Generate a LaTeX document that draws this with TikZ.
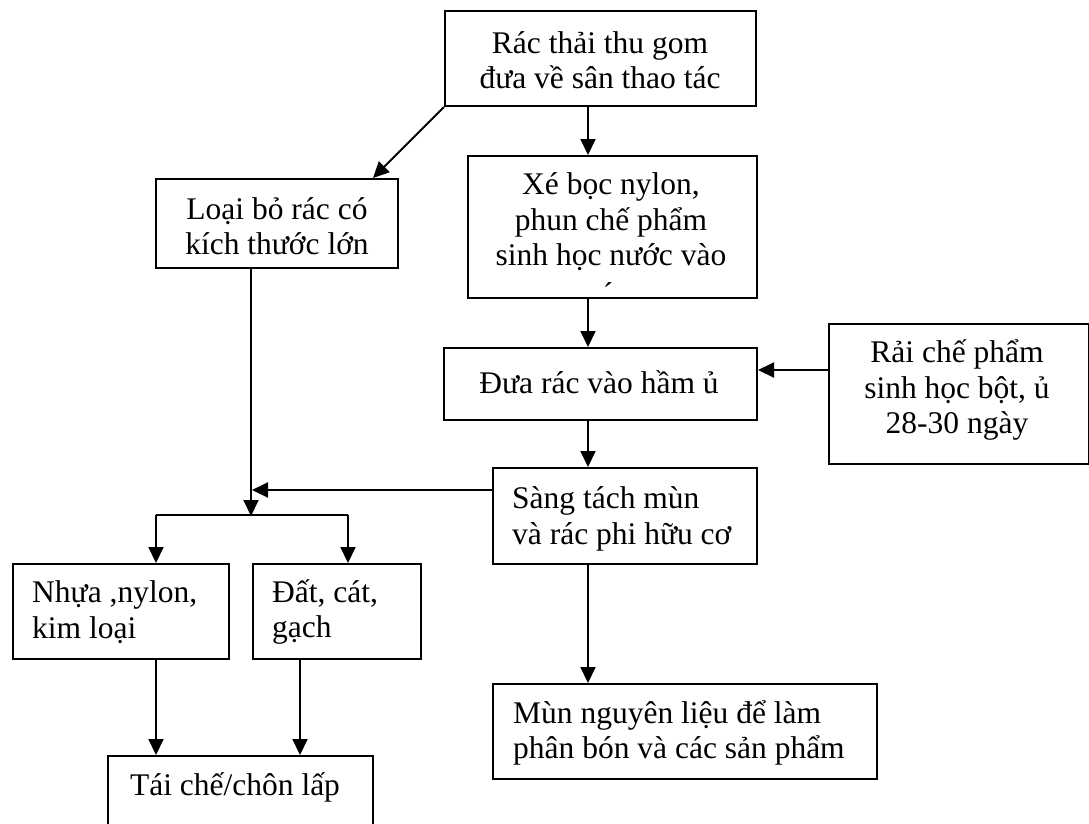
\documentclass[tikz,border=0pt]{standalone}
\usepackage{fontspec}
\setmainfont{Liberation Serif}
\usetikzlibrary{arrows.meta}
\begin{document}
\begin{tikzpicture}[x=1pt,y=-1pt,
  box/.style={draw=black, line width=2pt, inner sep=0pt, anchor=north west},
  txt/.style={inner sep=0pt, align=center, font=\fontsize{31.5}{35.5}\selectfont},
  ltxt/.style={inner sep=0pt, align=left, anchor=west, font=\fontsize{31.5}{35.5}\selectfont},
  line/.style={line width=2pt},
  conn/.style={line width=2pt, -{Triangle[length=16pt,width=15pt]}}]
\clip (0,0) rectangle (1089,823);
\useasboundingbox (0,0) rectangle (1089,823);
\fill[white] (0,0) rectangle (1089,823);
% boxes
\node[box, minimum width=311, minimum height=95] (b1) at (444,10) {};
\node[txt] (t1) at (600,60) {Rác thải thu gom\\đưa về sân thao tác};
\node[box, minimum width=289, minimum height=142] (b2) at (467,155) {};
\node[txt] (t2) at (611,222) {Xé bọc nylon,\\phun chế phẩm\\sinh học nước vào};
\node[txt] (t2b) at (608,294) {´};
\node[box, minimum width=242, minimum height=89] (b3) at (155,178) {};
\node[txt] (t3) at (277,226) {Loại bỏ rác có\\kích thước lớn};
\node[box, minimum width=313, minimum height=72] (b4) at (443,347) {};
\node[txt] (t4) at (599,382) {Đưa rác vào hầm ủ};
\node[box, minimum width=260, minimum height=140] (rai) at (828,323) {};
\node[txt] (t5) at (957,390) {Rải chế phẩm\\sinh học bột, ủ\\28-30 ngày};
\node[box, minimum width=264, minimum height=96] (sang) at (492,467) {};
\node[ltxt] (t6) at (512,519) {Sàng tách mùn\\và rác phi hữu cơ};
\node[box, minimum width=216, minimum height=95] (nhua) at (12,563) {};
\node[ltxt] (t7) at (32,612) {Nhựa ,nylon,\\kim loại};
\node[box, minimum width=168, minimum height=95] (dat) at (252,563) {};
\node[ltxt] (t8) at (272,612) {Đất, cát,\\gạch};
\node[box, minimum width=265, minimum height=120] (tai) at (107,755) {};
\node[txt] (t9) at (235,787) {Tái chế/chôn lấp};
\node[box, minimum width=384, minimum height=95] (mun) at (492,683) {};
\node[ltxt] (t10) at (513,733) {Mùn nguyên liệu để làm\\phân bón và các sản phẩm};
% helper coordinates
\coordinate (cx) at (588,0);
\coordinate (dg) at (373,0);
\coordinate (jn) at (251,515);
\coordinate (jl) at (156,515);
\coordinate (jr) at (348,515);
\coordinate (hy) at (0,490);
\coordinate (ry) at (0,370);
\coordinate (bx) at (300,0);
% connectors
\draw[conn] (b1.south -| cx) -- (b2.north -| cx);
\draw[conn] (b1.south west) -- (b3.north -| dg);
\draw[conn] (b2.south -| cx) -- (b4.north -| cx);
\draw[conn] (b4.south -| cx) -- (sang.north -| cx);
\draw[conn] (sang.south -| cx) -- (mun.north -| cx);
\draw[conn] (rai.west |- ry) -- (b4.east |- ry);
\draw[conn] (b3.south -| jn) -- ([yshift=-1pt]jn);
\draw[conn] (sang.west |- hy) -- ([xshift=1pt]jn |- hy);
\draw[line] (jl) -- (jr);
\draw[conn] (jl) -- (nhua.north -| jl);
\draw[conn] (jr) -- (dat.north -| jr);
\draw[conn] (nhua.south -| jl) -- (tai.north -| jl);
\draw[conn] (dat.south -| bx) -- (tai.north -| bx);
\end{tikzpicture}
\end{document}
